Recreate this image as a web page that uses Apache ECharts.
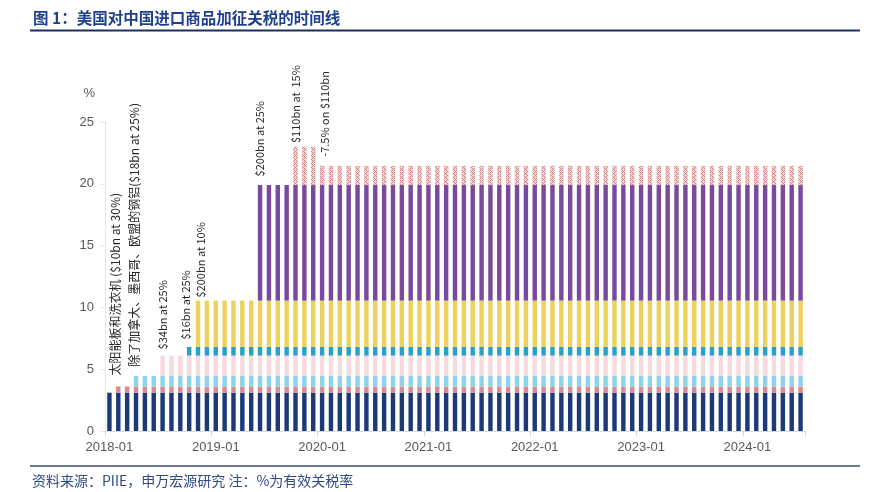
<!DOCTYPE html>
<html>
<head>
<meta charset="utf-8">
<script src="https://cdn.jsdelivr.net/npm/echarts@6/dist/echarts.min.js"></script>
<style>
html,body{margin:0;padding:0;background:#fff;}
#chart{width:870px;height:492px;}
</style>
</head>
<body>
<div id="chart"></div>
<script>
// ---- Data ----
var months = [
 '2018-01','2018-02','2018-03','2018-04','2018-05','2018-06','2018-07','2018-08','2018-09','2018-10','2018-11','2018-12',
 '2019-01','2019-02','2019-03','2019-04','2019-05','2019-06','2019-07','2019-08','2019-09','2019-10','2019-11','2019-12',
 '2020-01','2020-02','2020-03','2020-04','2020-05','2020-06','2020-07','2020-08','2020-09','2020-10','2020-11','2020-12',
 '2021-01','2021-02','2021-03','2021-04','2021-05','2021-06','2021-07','2021-08','2021-09','2021-10','2021-11','2021-12',
 '2022-01','2022-02','2022-03','2022-04','2022-05','2022-06','2022-07','2022-08','2022-09','2022-10','2022-11','2022-12',
 '2023-01','2023-02','2023-03','2023-04','2023-05','2023-06','2023-07','2023-08','2023-09','2023-10','2023-11','2023-12',
 '2024-01','2024-02','2024-03','2024-04','2024-05','2024-06','2024-07'
];
var yTicks = [0, 5, 10, 15, 20, 25];

// base tariff layer (navy)
var baseLayer = [
 3.1,3.1,3.1,3.1,3.1,3.1,3.1,3.1,3.1,3.1,3.1,3.1,
 3.1,3.1,3.1,3.1,3.1,3.1,3.1,3.1,3.1,3.1,3.1,3.1,
 3.1,3.1,3.1,3.1,3.1,3.1,3.1,3.1,3.1,3.1,3.1,3.1,
 3.1,3.1,3.1,3.1,3.1,3.1,3.1,3.1,3.1,3.1,3.1,3.1,
 3.1,3.1,3.1,3.1,3.1,3.1,3.1,3.1,3.1,3.1,3.1,3.1,
 3.1,3.1,3.1,3.1,3.1,3.1,3.1,3.1,3.1,3.1,3.1,3.1,
 3.1,3.1,3.1,3.1,3.1,3.1,3.1
];
// solar panels & washing machines
var solarLayer = [
 0,0.5,0.5,0.5,0.5,0.5,0.5,0.5,0.5,0.5,0.5,0.5,
 0.5,0.5,0.5,0.5,0.5,0.5,0.5,0.5,0.5,0.5,0.5,0.5,
 0.5,0.5,0.5,0.5,0.5,0.5,0.5,0.5,0.5,0.5,0.5,0.5,
 0.5,0.5,0.5,0.5,0.5,0.5,0.5,0.5,0.5,0.5,0.5,0.5,
 0.5,0.5,0.5,0.5,0.5,0.5,0.5,0.5,0.5,0.5,0.5,0.5,
 0.5,0.5,0.5,0.5,0.5,0.5,0.5,0.5,0.5,0.5,0.5,0.5,
 0.5,0.5,0.5,0.5,0.5,0.5,0.5
];
// steel & aluminium
var steelLayer = [
 0,0,0,0.85,0.85,0.85,0.85,0.85,0.85,0.85,0.85,0.85,
 0.85,0.85,0.85,0.85,0.85,0.85,0.85,0.85,0.85,0.85,0.85,0.85,
 0.85,0.85,0.85,0.85,0.85,0.85,0.85,0.85,0.85,0.85,0.85,0.85,
 0.85,0.85,0.85,0.85,0.85,0.85,0.85,0.85,0.85,0.85,0.85,0.85,
 0.85,0.85,0.85,0.85,0.85,0.85,0.85,0.85,0.85,0.85,0.85,0.85,
 0.85,0.85,0.85,0.85,0.85,0.85,0.85,0.85,0.85,0.85,0.85,0.85,
 0.85,0.85,0.85,0.85,0.85,0.85,0.85
];
// $34bn at 25%
var list1Layer = [
 0,0,0,0,0,0,1.65,1.65,1.65,1.65,1.65,1.65,
 1.65,1.65,1.65,1.65,1.65,1.65,1.65,1.65,1.65,1.65,1.65,1.65,
 1.65,1.65,1.65,1.65,1.65,1.65,1.65,1.65,1.65,1.65,1.65,1.65,
 1.65,1.65,1.65,1.65,1.65,1.65,1.65,1.65,1.65,1.65,1.65,1.65,
 1.65,1.65,1.65,1.65,1.65,1.65,1.65,1.65,1.65,1.65,1.65,1.65,
 1.65,1.65,1.65,1.65,1.65,1.65,1.65,1.65,1.65,1.65,1.65,1.65,
 1.65,1.65,1.65,1.65,1.65,1.65,1.65
];
// $16bn at 25%
var list2Layer = [
 0,0,0,0,0,0,0,0,0,0.7,0.7,0.7,
 0.7,0.7,0.7,0.7,0.7,0.7,0.7,0.7,0.7,0.7,0.7,0.7,
 0.7,0.7,0.7,0.7,0.7,0.7,0.7,0.7,0.7,0.7,0.7,0.7,
 0.7,0.7,0.7,0.7,0.7,0.7,0.7,0.7,0.7,0.7,0.7,0.7,
 0.7,0.7,0.7,0.7,0.7,0.7,0.7,0.7,0.7,0.7,0.7,0.7,
 0.7,0.7,0.7,0.7,0.7,0.7,0.7,0.7,0.7,0.7,0.7,0.7,
 0.7,0.7,0.7,0.7,0.7,0.7,0.7
];
// $200bn at 10%
var list3aLayer = [
 0,0,0,0,0,0,0,0,0,0,3.75,3.75,
 3.75,3.75,3.75,3.75,3.75,3.75,3.75,3.75,3.75,3.75,3.75,3.75,
 3.75,3.75,3.75,3.75,3.75,3.75,3.75,3.75,3.75,3.75,3.75,3.75,
 3.75,3.75,3.75,3.75,3.75,3.75,3.75,3.75,3.75,3.75,3.75,3.75,
 3.75,3.75,3.75,3.75,3.75,3.75,3.75,3.75,3.75,3.75,3.75,3.75,
 3.75,3.75,3.75,3.75,3.75,3.75,3.75,3.75,3.75,3.75,3.75,3.75,
 3.75,3.75,3.75,3.75,3.75,3.75,3.75
];
// $200bn raised to 25%
var list3bLayer = [
 0,0,0,0,0,0,0,0,0,0,0,0,
 0,0,0,0,0,9.35,9.35,9.35,9.35,9.35,9.35,9.35,
 9.35,9.35,9.35,9.35,9.35,9.35,9.35,9.35,9.35,9.35,9.35,9.35,
 9.35,9.35,9.35,9.35,9.35,9.35,9.35,9.35,9.35,9.35,9.35,9.35,
 9.35,9.35,9.35,9.35,9.35,9.35,9.35,9.35,9.35,9.35,9.35,9.35,
 9.35,9.35,9.35,9.35,9.35,9.35,9.35,9.35,9.35,9.35,9.35,9.35,
 9.35,9.35,9.35,9.35,9.35,9.35,9.35
];
// $110bn at 15%, then 7.5%
var list4aLayer = [
 0,0,0,0,0,0,0,0,0,0,0,0,
 0,0,0,0,0,0,0,0,0,3.1,3.1,3.1,
 1.55,1.55,1.55,1.55,1.55,1.55,1.55,1.55,1.55,1.55,1.55,1.55,
 1.55,1.55,1.55,1.55,1.55,1.55,1.55,1.55,1.55,1.55,1.55,1.55,
 1.55,1.55,1.55,1.55,1.55,1.55,1.55,1.55,1.55,1.55,1.55,1.55,
 1.55,1.55,1.55,1.55,1.55,1.55,1.55,1.55,1.55,1.55,1.55,1.55,
 1.55,1.55,1.55,1.55,1.55,1.55,1.55
];

// annotation texts, anchored at [month, value]
var noteTexts = [
 '太阳能板和洗衣机 ($10bn at 30%)',
 '除了加拿大、墨西哥、欧盟的钢铝($18bn at 25%)',
 '$34bn at 25%',
 '$16bn at 25%',
 '$200bn at 10%',
 '$200bn at 25%',
 '$110bn at  15%',
 '-7.5% on $110bn'
];
var noteMonths = ['2018-02','2018-04','2018-07','2018-10','2018-11','2019-06','2019-10','2020-01'];
var noteValues = [4.5, 5.2, 6.6, 7.4, 10.8, 20.6, 23.3, 22.2];

var titleText = '图 1：美国对中国进口商品加征关税的时间线';
var sourceText = '资料来源：PIIE，申万宏源研究 注：%为有效关税率';

// ---- Chart ----
var chart = echarts.init(document.getElementById('chart'), null, {renderer: 'canvas'});

// hatched pattern for the last layer
var pc = document.createElement('canvas');
pc.width = 4; pc.height = 4;
var pctx = pc.getContext('2d');
pctx.fillStyle = '#f2d6d6';
pctx.fillRect(0, 0, 4, 4);
pctx.fillStyle = '#cf8585';
pctx.fillRect(0, 0, 1, 1);
pctx.fillRect(1, 1, 1, 1);
pctx.fillRect(2, 2, 1, 1);
pctx.fillRect(3, 3, 1, 1);
pctx.fillRect(2, 0, 1, 1);
pctx.fillRect(0, 2, 1, 1);

var layers = [
  {name: 'base', data: baseLayer, color: '#1d3a78'},
  {name: 'solar', data: solarLayer, color: '#d88a8c'},
  {name: 'steel', data: steelLayer, color: '#8dd3e9'},
  {name: 'list1', data: list1Layer, color: '#f6dade'},
  {name: 'list2', data: list2Layer, color: '#2aa0c6'},
  {name: 'list3a', data: list3aLayer, color: '#ecd25c'},
  {name: 'list3b', data: list3bLayer, color: '#7a4a9e'},
  {name: 'list4a', data: list4aLayer, color: {image: pc, repeat: 'repeat'}}
];

var series = layers.map(function (l) {
  return {
    name: l.name,
    type: 'bar',
    stack: 'total',
    data: l.data,
    barWidth: '50%',
    itemStyle: {color: l.color},
    emphasis: {disabled: true},
    animation: false
  };
});

var grid = {left: 105, right: 65, top: 122, bottom: 61};

chart.setOption({
  animation: false,
  backgroundColor: '#ffffff',
  grid: grid,
  xAxis: {
    type: 'category',
    data: months,
    axisLine: {show: true, lineStyle: {color: '#d9d9d9', width: 1}},
    axisTick: {show: true, interval: 11, length: 5, lineStyle: {color: '#d9d9d9'}},
    axisLabel: {interval: 11, color: '#595959', fontSize: 13, margin: 10, fontFamily: 'Liberation Sans, Arial, sans-serif'},
    splitLine: {show: false}
  },
  yAxis: {
    type: 'value',
    min: yTicks[0],
    max: yTicks[yTicks.length - 1],
    interval: 5,
    name: '%',
    nameLocation: 'end',
    nameGap: 22,
    nameTextStyle: {color: '#595959', fontSize: 13, align: 'right', padding: [0, 10, 0, 0], fontFamily: 'Liberation Sans, Arial, sans-serif'},
    axisLine: {show: true, lineStyle: {color: '#e6e6e6', width: 1}},
    axisTick: {show: true, length: 4, lineStyle: {color: '#e6e6e6'}},
    axisLabel: {color: '#595959', fontSize: 13, margin: 11, fontFamily: 'Liberation Sans, Arial, sans-serif'},
    splitLine: {show: false}
  },
  series: series
});

// small horizontal nudges of the annotation texts (pixels)
var noteNudge = [-3, -2, 0, -3.5, 3, 0, 0, 3];

// Annotations placed through the chart's own coordinate system
var graphics = [];
for (var i = 0; i < noteTexts.length; i++) {
  var p = chart.convertToPixel({seriesIndex: 0}, [noteMonths[i], noteValues[i]]);
  var hasCJK = /[\u4e00-\u9fff]/.test(noteTexts[i]);
  graphics.push({
    type: 'text',
    x: p[0] + noteNudge[i],
    y: p[1],
    rotation: Math.PI / 2,
    silent: true,
    style: {
      text: noteTexts[i],
      fill: '#262626',
      font: (hasCJK ? '12px' : '11px') + ' "Noto Sans CJK SC", "Liberation Sans", sans-serif',
      align: 'left',
      verticalAlign: 'middle',
      textAlign: 'left',
      textVerticalAlign: 'middle'
    }
  });
}
// Title, rules, source note
graphics.push({
  type: 'text', left: 33, top: 10, silent: true,
  style: {text: titleText, fill: '#1f3f8e', font: 'bold 15.5px "Noto Sans CJK SC", sans-serif'}
});
graphics.push({
  type: 'line', silent: true,
  shape: {x1: 30, y1: 30.5, x2: 860, y2: 30.5},
  style: {stroke: '#1c2f63', lineWidth: 2}
});
graphics.push({
  type: 'line', silent: true,
  shape: {x1: 30, y1: 466, x2: 860, y2: 466},
  style: {stroke: '#3b4a6b', lineWidth: 1.5}
});
graphics.push({
  type: 'text', left: 32, top: 474, silent: true,
  style: {text: sourceText, fill: '#2e4a86', font: '14px "Noto Sans CJK SC", sans-serif'}
});

chart.setOption({graphic: graphics});
</script>
</body>
</html>
